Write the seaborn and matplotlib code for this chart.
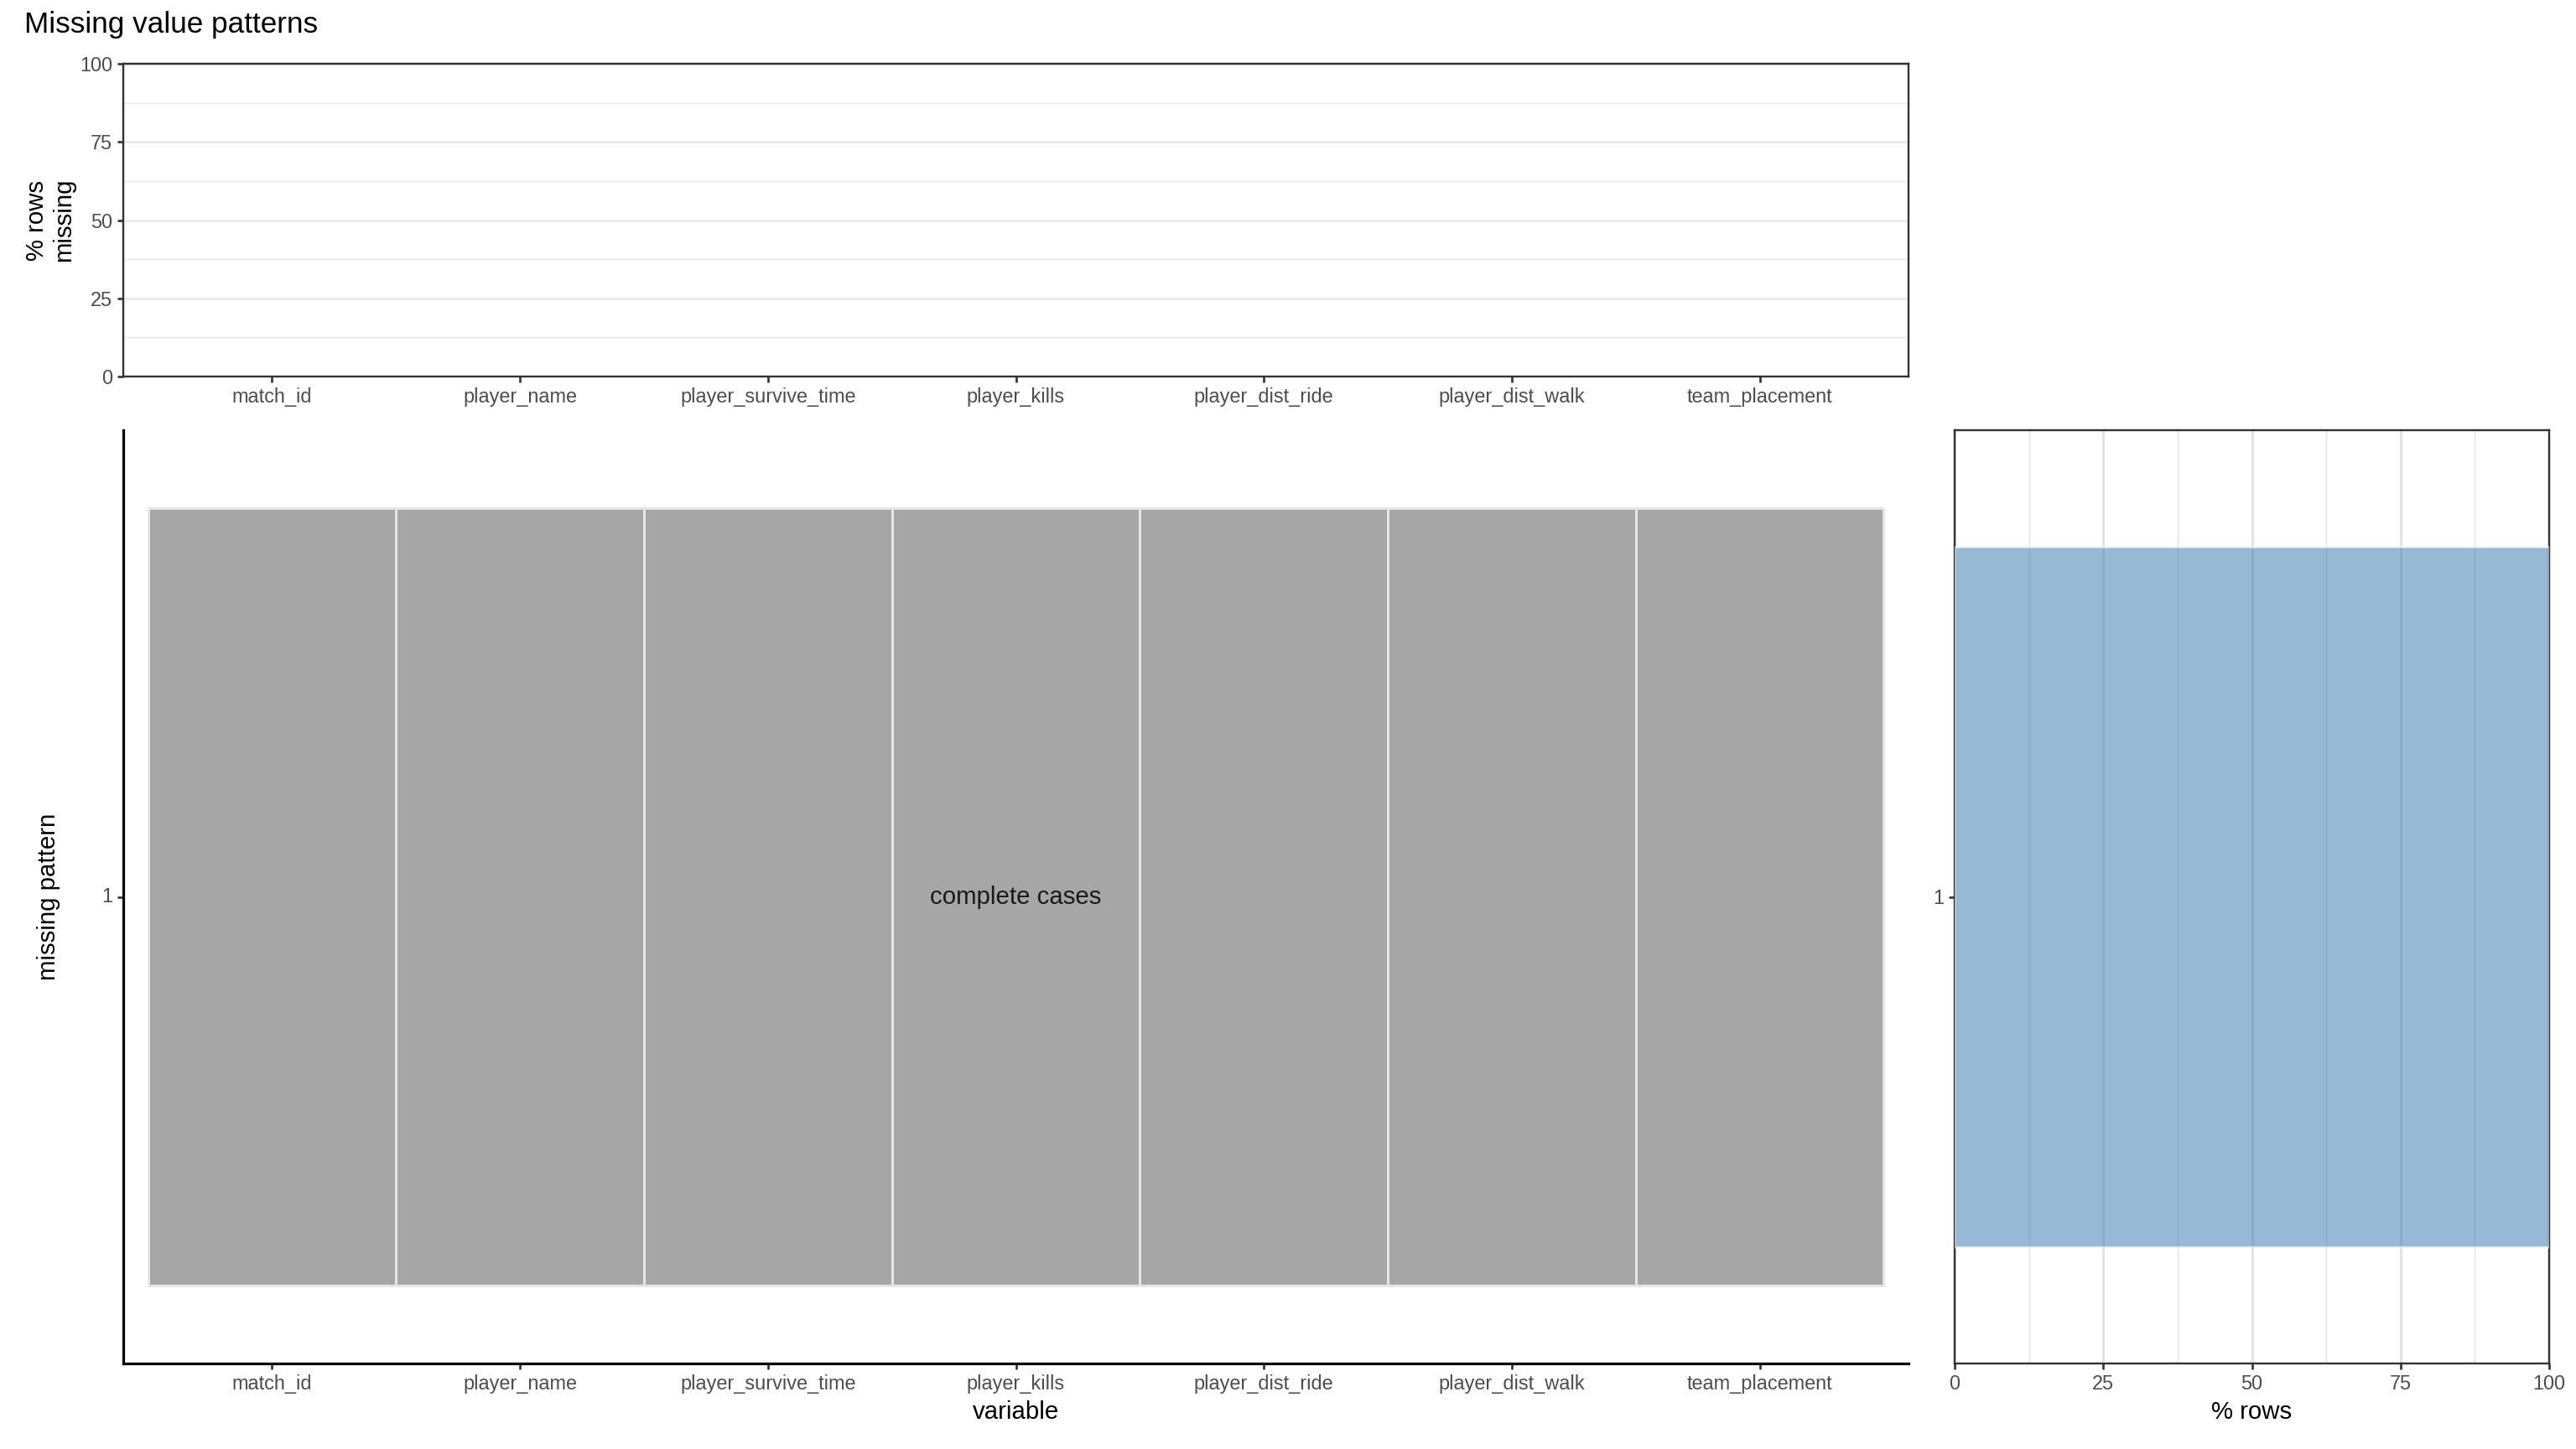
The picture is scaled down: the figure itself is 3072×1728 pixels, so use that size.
import matplotlib
matplotlib.use("Agg")
import matplotlib.pyplot as plt
from matplotlib.colors import ListedColormap
import numpy as np
import pandas as pd
import seaborn as sns

# data
variables = ["match_id", "player_name", "player_survive_time", "player_kills",
             "player_dist_ride", "player_dist_walk", "team_placement"]
pct_missing = [0, 0, 0, 0, 0, 0, 0]
pattern_ids = ["1"]
pattern_pct = [100]
pattern_present = [[1, 1, 1, 1, 1, 1, 1]]
pattern_label = "complete cases"

sns.set_theme(style="white")
plt.rcParams["font.family"] = ["Liberation Sans", "DejaVu Sans"]

TICK_COL = "#4D4D4D"
GRID_COL = "#EBEBEB"
W, H = 3072, 1728
fig = plt.figure(figsize=(16, 9), dpi=192)


def box(x0, y0, x1, y1):
    # pixel box (top-left origin) -> figure fraction rect
    return [x0 / W, 1 - y1 / H, (x1 - x0) / W, (y1 - y0) / H]


def style_ticks(ax):
    ax.tick_params(axis="both", which="major", length=2.75, width=1.0, color="#333333",
                   labelsize=8.8, labelcolor=TICK_COL, pad=2.2, bottom=True, left=True)


# top panel: % rows missing per variable
ax_top = fig.add_axes(box(147, 76, 2276, 449))
df_top = pd.DataFrame({"variable": variables, "pct": pct_missing})
sns.barplot(data=df_top, x="variable", y="pct", color="steelblue", ax=ax_top, width=0.9)
ax_top.set_ylim(0, 100)
ax_top.set_xlim(-0.6, len(variables) - 0.4)
ax_top.set_yticks([0, 25, 50, 75, 100])
ax_top.set_yticks([12.5, 37.5, 62.5, 87.5], minor=True)
ax_top.grid(axis="y", which="major", color=GRID_COL, linewidth=1.1)
ax_top.grid(axis="y", which="minor", color=GRID_COL, linewidth=0.55)
ax_top.set_axisbelow(True)
ax_top.set_xlabel("")
ax_top.set_ylabel("% rows\nmissing", fontsize=11, color="black")
ax_top.yaxis.set_label_coords(-0.0268, 0.5)
for s in ax_top.spines.values():
    s.set_color("#333333")
    s.set_linewidth(0.9)
style_ticks(ax_top)
ax_top.tick_params(axis="y", which="minor", length=0)

# main panel: pattern tiles
ax_main = fig.add_axes(box(147, 513, 2276, 1626))
mat = pd.DataFrame(pattern_present, index=pattern_ids, columns=variables)
sns.heatmap(mat, ax=ax_main, cmap=ListedColormap(["#A6A6A6"]), cbar=False,
            linewidths=0.5, linecolor="#E6E6E6", vmin=0, vmax=1)
ax_main.set_xlim(-0.1, len(variables) + 0.1)
ax_main.set_ylim(1.1, -0.1)
ax_main.text(len(variables) / 2, 0.5, pattern_label, ha="center", va="center",
             fontsize=11, color="#1A1A1A")
ax_main.set_xticks(np.arange(len(variables)) + 0.5)
ax_main.set_xticklabels(variables, rotation=0)
ax_main.set_yticks([0.5])
ax_main.set_yticklabels(pattern_ids, rotation=0)
ax_main.set_xlabel("variable", fontsize=11, color="black", labelpad=3)
ax_main.set_ylabel("missing pattern", fontsize=11, color="black")
ax_main.yaxis.set_label_coords(-0.035, 0.5)
for side in ["top", "right"]:
    ax_main.spines[side].set_visible(False)
for side in ["left", "bottom"]:
    ax_main.spines[side].set_visible(True)
    ax_main.spines[side].set_color("black")
    ax_main.spines[side].set_linewidth(1.2)
style_ticks(ax_main)

# right panel: % rows per pattern
ax_right = fig.add_axes(box(2331, 513, 3040, 1626))
df_right = pd.DataFrame({"pattern": pattern_ids, "pct": pattern_pct})
sns.barplot(data=df_right, x="pct", y="pattern", orient="h", color="steelblue",
            saturation=1, alpha=0.56, width=0.9, ax=ax_right, zorder=3)
ax_right.set_xlim(0, 100)
ax_right.set_ylim(0.6, -0.6)
ax_right.set_xticks([0, 25, 50, 75, 100])
ax_right.set_xticks([12.5, 37.5, 62.5, 87.5], minor=True)
ax_right.grid(axis="x", which="major", color="#E3E3E3", linewidth=1.1, zorder=1)
ax_right.grid(axis="x", which="minor", color="#E3E3E3", linewidth=0.55, zorder=1)
ax_right.set_axisbelow(True)
ax_right.set_xlabel("% rows", fontsize=11, color="black", labelpad=3)
ax_right.set_ylabel("")
for s in ax_right.spines.values():
    s.set_color("#333333")
    s.set_linewidth(0.9)
style_ticks(ax_right)
ax_right.tick_params(axis="x", which="minor", length=0)

fig.text(29 / W, 1 - 29 / H, "Missing value patterns", fontsize=13.2,
         ha="left", va="center", color="black")

fig.savefig("out.png", dpi=192, facecolor="white")
